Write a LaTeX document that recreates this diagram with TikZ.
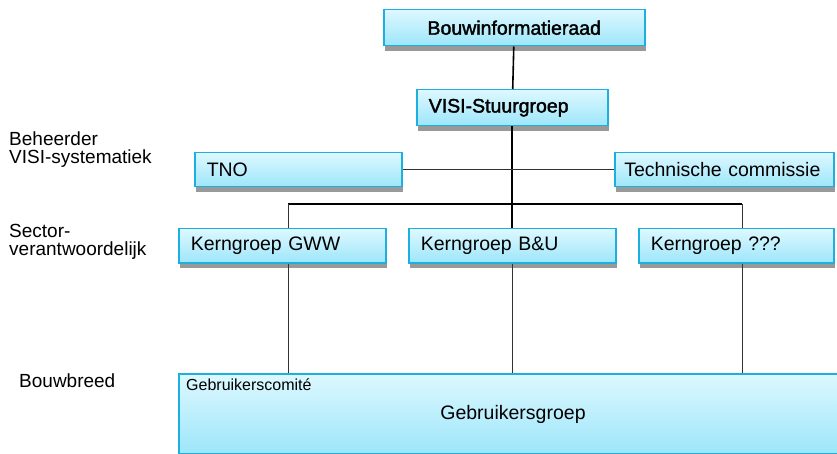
\documentclass[tikz,border=0pt]{standalone}
\usepackage{fontspec}
\setmainfont{Liberation Sans}
\newfontfamily\heavyfont[FakeBold=1.8]{Liberation Sans}
\usetikzlibrary{shadows}
\definecolor{boxline}{HTML}{1BB0DF}
\definecolor{boxtop}{HTML}{DDF8FF}
\definecolor{boxbot}{HTML}{9DE6FA}
\tikzset{
  orgbox/.style={draw=boxline, line width=1.5pt, top color=boxtop, bottom color=boxbot,
    drop shadow={shadow xshift=1pt, shadow yshift=-5pt, fill=black!40, opacity=1},
    anchor=north west, inner xsep=12pt, inner ysep=0pt, align=left,
    font=\fontsize{19.5}{22}\selectfont},
  sidelabel/.style={anchor=west, align=left, inner sep=0pt, font=\fontsize{19}{18}\selectfont},
  link/.style={line width=1.6pt},
  thinlink/.style={line width=0.9pt, black!80}
}
\begin{document}
\begin{tikzpicture}[x=1pt,y=-1pt]
\useasboundingbox (0,0) rectangle (837,454);
% boxes
\node[orgbox, text width=237pt, minimum height=36pt, align=center, font=\heavyfont\fontsize{19.5}{22}\selectfont] (raad) at (383,9) {Bouwinformatieraad};
\node[orgbox, text width=167pt, minimum height=36pt, font=\heavyfont\fontsize{19.5}{22}\selectfont] (stuur) at (416,89) {VISI-Stuurgroep};
\node[orgbox, text width=183pt, minimum height=34pt] (tno) at (194,152) {TNO};
\node[orgbox, text width=200pt, inner xsep=9.5pt, minimum height=34pt] (tc) at (614,152) {\mbox{Technische commissie}};
\node[orgbox, text width=183pt, minimum height=34pt] (gww) at (178,228) {Kerngroep GWW};
\node[orgbox, text width=183pt, minimum height=34pt] (bu) at (408,228) {Kerngroep B\&U};
\node[orgbox, text width=171pt, minimum height=34pt] (kvr) at (638,228) {Kerngroep ???};
\begin{scope}
\clip (0,0) rectangle (837,454);
\node[orgbox, drop shadow={opacity=0}, minimum width=700pt, minimum height=80pt, text width=676pt] (gebr) at (178,373) {};
\end{scope}
\node[anchor=north west, inner sep=0pt, font=\fontsize{16}{16}\selectfont] (comite) at (186,379) {Gebruikerscomité};
\node[font=\fontsize{19.5}{22}\selectfont] (groep) at (513,414) {Gebruikersgroep};
% labels on the left
\node[sidelabel] (beheer) at (9,150) {Beheerder\\VISI-systematiek};
\node[sidelabel] (sector) at (9,242) {Sector-\\verantwoordelijk};
\node[sidelabel] (breed) at (19,381) {Bouwbreed};
% lines
\coordinate (busl) at (288,204);
\coordinate (busr) at (742,204);
\draw[link] (raad) -- (stuur);
\draw[link] (stuur) -- (bu);
\draw[thinlink] (tno) -- (tc);
\draw[link] (busl) -- (busr);
\draw[thinlink] (busl) -- (busl |- gww.north);
\draw[thinlink] (busr) -- (busr |- kvr.north);
\draw[thinlink] (busl |- gww.south) -- (busl |- gebr.north);
\draw[thinlink] (bu) -- (bu |- gebr.north);
\draw[thinlink] (busr |- kvr.south) -- (busr |- gebr.north);
\end{tikzpicture}
\end{document}
